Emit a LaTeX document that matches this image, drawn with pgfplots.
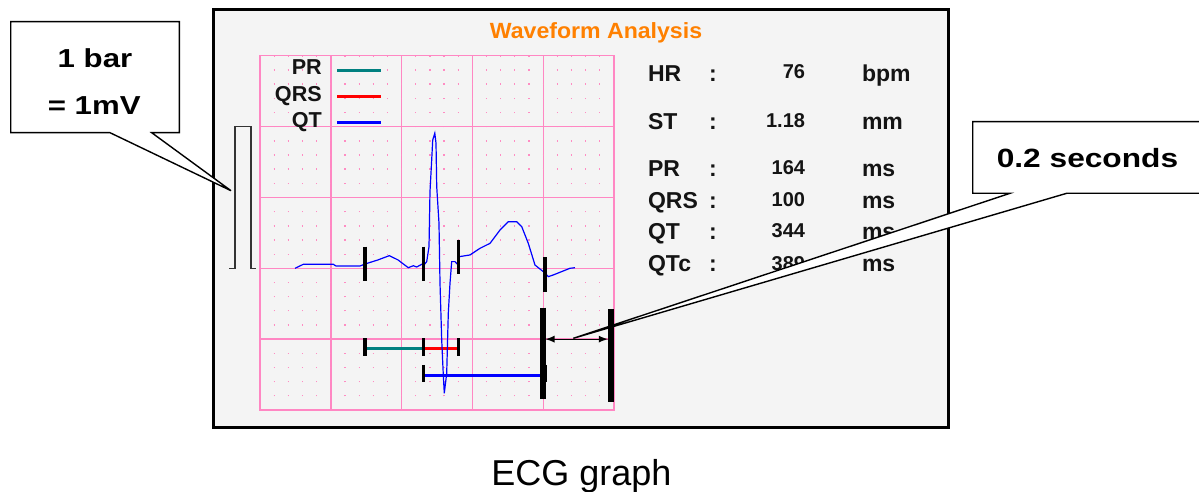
\documentclass[border=0pt]{standalone}
\usepackage{pgfplots}
\pgfplotsset{compat=1.18}
\usepackage{fontspec}
\setmainfont{Liberation Sans}
\newfontfamily\calloutfont[FakeStretch=1.2]{Liberation Sans}
\newfontfamily\titlefont[FakeStretch=1.05]{Liberation Sans}
\definecolor{boxgray}{RGB}{244,244,244}
\definecolor{gridpink}{RGB}{255,135,195}
\definecolor{dotpink}{RGB}{255,140,195}
\definecolor{ecgteal}{RGB}{0,128,128}
\definecolor{ecgorange}{RGB}{255,128,0}
\definecolor{ecgblue}{RGB}{0,0,255}
\definecolor{txt}{RGB}{20,20,20}
\pgfplotsset{canvas/.style={at={(299.75pt,123pt)}, anchor=center, scale only axis,
  width=599.5pt, height=246pt, xmin=0, xmax=1199, ymin=0, ymax=492,
  y dir=reverse, hide axis, clip=false}}
\newcommand{\lab}{\bfseries\fontsize{11.5}{13}\selectfont}
\newcommand{\num}{\bfseries\fontsize{10}{12}\selectfont}
\begin{document}
\begin{tikzpicture}[every node/.append style={inner sep=0pt, outer sep=0pt}]
\useasboundingbox (0,0) rectangle (599.5pt,246pt);
% ---------- background canvas ----------
\begin{axis}[canvas]
\draw[line width=1.5pt, fill=boxgray] (axis cs:213.7,9.5) rectangle (axis cs:948.3,427);
\node[anchor=base, text=ecgorange, font=\titlefont\bfseries\fontsize{11}{13}\selectfont] at (axis cs:596,38.3) {Waveform Analysis};
% right panel
\node[anchor=base west, text=txt, font=\lab] at (axis cs:648,81.7) {HR};
\node[anchor=base, text=txt, font=\lab] at (axis cs:713,81.7) {:};
\node[anchor=base east, text=txt, font=\num] at (axis cs:805,78.3) {76};
\node[anchor=base west, text=txt, font=\lab] at (axis cs:862,81.7) {bpm};
\node[anchor=base west, text=txt, font=\lab] at (axis cs:648,129) {ST};
\node[anchor=base, text=txt, font=\lab] at (axis cs:713,129) {:};
\node[anchor=base east, text=txt, font=\num] at (axis cs:805,127.3) {1.18};
\node[anchor=base west, text=txt, font=\lab] at (axis cs:862,129.3) {mm};
\node[anchor=base west, text=txt, font=\lab] at (axis cs:648,176.7) {PR};
\node[anchor=base, text=txt, font=\lab] at (axis cs:713,176.7) {:};
\node[anchor=base east, text=txt, font=\num] at (axis cs:805,174) {164};
\node[anchor=base west, text=txt, font=\lab] at (axis cs:862,176.7) {ms};
\node[anchor=base west, text=txt, font=\lab] at (axis cs:648,208.3) {QRS};
\node[anchor=base, text=txt, font=\lab] at (axis cs:713,208.3) {:};
\node[anchor=base east, text=txt, font=\num] at (axis cs:805,206) {100};
\node[anchor=base west, text=txt, font=\lab] at (axis cs:862,208.3) {ms};
\node[anchor=base west, text=txt, font=\lab] at (axis cs:648,239) {QT};
\node[anchor=base, text=txt, font=\lab] at (axis cs:713,239) {:};
\node[anchor=base east, text=txt, font=\num] at (axis cs:805,237.3) {344};
\node[anchor=base west, text=txt, font=\lab] at (axis cs:862,239) {ms};
\node[anchor=base west, text=txt, font=\lab] at (axis cs:648,271.7) {QTc};
\node[anchor=base, text=txt, font=\lab] at (axis cs:713,271.7) {:};
\node[anchor=base east, text=txt, font=\num] at (axis cs:805,270) {389};
\node[anchor=base west, text=txt, font=\lab] at (axis cs:862,271.7) {ms};
% caption
\node[anchor=base, font=\fontsize{18}{20}\selectfont] at (axis cs:581.5,485) {ECG graph};
\end{axis}
% ---------- ECG grid axis ----------
\begin{axis}[at={(130pt,41pt)}, anchor=south west, scale only axis,
  width=177pt, height=177.15pt,
  xmin=0, xmax=1, ymin=-1, ymax=1.5,
  xtick={0,0.2,0.4,0.6,0.8,1}, ytick={-1,-0.5,0,0.5,1,1.5},
  minor x tick num=4, minor y tick num=4,
  xticklabels={}, yticklabels={},
  major tick length=0pt, minor tick length=0pt, tick style={draw=none},
  grid=both,
  grid style={draw=gridpink},
  axis line style={draw=gridpink, line width=0.7pt},
  major grid style={draw=gridpink, line width=0.7pt},
  minor grid style={draw=dotpink, line width=0.6pt, dash pattern=on 0.6pt off 6.48pt, dash phase=0.3pt},
  clip=false,
  legend plot pos=right, legend cell align=right,
  legend image code/.code={\draw[#1] (0pt,0pt) -- (21.85pt,0pt);},
  legend style={at={(axis cs:0.3466,1.4895)}, anchor=north east, draw=none, fill=none,
    inner sep=0pt, outer sep=0pt, row sep=0pt, column sep=7pt,
    font=\bfseries\fontsize{10.8}{12}\selectfont, text=txt,
    nodes={inner sep=0pt, text height=8.88pt, text depth=4.23pt}},
]
% interval bars (legend entries)
\addplot[ecgteal, line width=1.6pt] coordinates {(0.2966,-0.567) (0.4613,-0.567)};
\addlegendentry{PR}
\addplot[red, line width=1.6pt] coordinates {(0.4613,-0.567) (0.5613,-0.567)};
\addlegendentry{QRS}
\addplot[ecgblue, line width=1.6pt] coordinates {(0.4613,-0.758) (0.799,-0.758)};
\addlegendentry{QT}
% waveform
\addplot[ecgblue, line width=0.6pt, forget plot] coordinates {
(0.0989,0) (0.1223,0.028) (0.2071,0.028) (0.2147,0.016) (0.2825,0.016) (0.2966,0.030)
(0.3333,0.059) (0.3653,0.089) (0.3898,0.059) (0.4189,0.004) (0.4331,0.018) (0.4426,0.009)
(0.4568,0.028) (0.4633,0.023) (0.4709,0.047) (0.4774,0.152) (0.4802,0.541) (0.4850,0.764)
(0.4879,0.905) (0.4938,0.953) (0.4972,0.882) (0.4992,0.576) (0.5056,0.320) (0.5085,-0.106)
(0.5133,-0.506) (0.5178,-0.753) (0.5206,-0.882) (0.5274,-0.741) (0.5319,-0.318) (0.5367,-0.106)
(0.5415,0.047) (0.5508,0.047) (0.5573,0.030) (0.5630,0.082) (0.5932,0.094) (0.6215,0.141)
(0.6497,0.176) (0.6780,0.270) (0.7014,0.329) (0.7251,0.329) (0.7393,0.294) (0.7579,0.176)
(0.7768,0.023) (0.8003,-0.024) (0.8144,-0.059) (0.8285,-0.047) (0.8757,0) (0.8898,0.004)};
% fiducial marks on waveform
\addplot[black, line width=1.6pt, forget plot] coordinates {(0.2966,0.152) (0.2966,-0.088)};
\addplot[black, line width=1.6pt, forget plot] coordinates {(0.4613,0.152) (0.4613,-0.088)};
\addplot[black, line width=1.6pt, forget plot] coordinates {(0.5613,0.2) (0.5613,-0.04)};
\addplot[black, line width=1.6pt, forget plot] coordinates {(0.805,0.078) (0.805,-0.165)};
% interval end ticks
\addplot[black, line width=1.6pt, forget plot] coordinates {(0.2966,-0.494) (0.2966,-0.617)};
\addplot[black, line width=1.6pt, forget plot] coordinates {(0.4613,-0.494) (0.4613,-0.617)};
\addplot[black, line width=1.6pt, forget plot] coordinates {(0.5613,-0.494) (0.5613,-0.617)};
\addplot[black, line width=1.6pt, forget plot] coordinates {(0.4613,-0.682) (0.4613,-0.805)};
\addplot[black, line width=1.6pt, forget plot] coordinates {(0.8073,-0.682) (0.8073,-0.805)};
% 0.2 s scale bars
\addplot[black, line width=2.8pt, forget plot] coordinates {(0.7986,-0.278) (0.7986,-0.922)};
\addplot[black, line width=2.8pt, forget plot] coordinates {(0.9915,-0.287) (0.9915,-0.941)};
\addplot[black, line width=0.6pt, <->, >=latex, forget plot] coordinates {(0.806,-0.5) (0.983,-0.5)};
% 1 mV calibration pulse
\addplot[black!80, line width=0.6pt, forget plot] coordinates {(-0.0867,0) (-0.0706,0) (-0.0706,1) (-0.0254,1) (-0.0254,0) (-0.0113,0)};
\end{axis}
% ---------- callouts on top ----------
\begin{axis}[canvas]
\draw[line width=0.7pt, fill=white] (axis cs:10.7,21.7) -- (axis cs:179.3,21.7) -- (axis cs:179.3,132.7) -- (axis cs:151.7,132.7) -- (axis cs:231,190.7) -- (axis cs:110,132.7) -- (axis cs:10.7,132.7) -- cycle;
\node[anchor=base, font=\calloutfont\bfseries\fontsize{13}{15}\selectfont] at (axis cs:95,67.7) {1 bar};
\node[anchor=base, font=\calloutfont\bfseries\fontsize{13}{15}\selectfont] at (axis cs:94.2,115) {= 1mV};
\draw[line width=0.7pt, fill=white] (axis cs:1202,121.7) -- (axis cs:972.7,121.7) -- (axis cs:972.7,193.3) -- (axis cs:1010,193.3) -- (axis cs:573.3,338.3) -- (axis cs:1066.7,193.3) -- (axis cs:1202,193.3);
\node[anchor=base, font=\calloutfont\bfseries\fontsize{13.2}{15}\selectfont] at (axis cs:1087.5,167.3) {0.2 seconds};
\end{axis}
\end{tikzpicture}
\end{document}
